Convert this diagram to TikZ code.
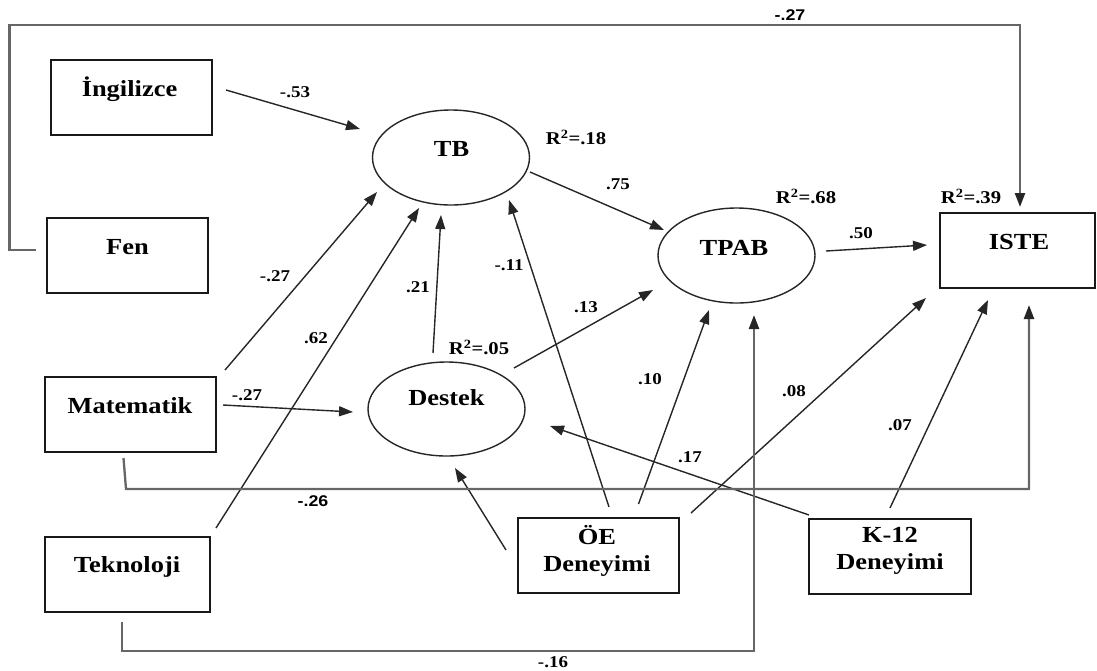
\documentclass[tikz,border=0pt]{standalone}
\usepackage{fontspec}
\newfontfamily\myserif{Liberation Serif}[FakeStretch=1.15]
\newfontfamily\mysans{Liberation Sans}[FakeStretch=1.15]
\usetikzlibrary{arrows.meta,calc,shapes.geometric}
\begin{document}
\begin{tikzpicture}[x=1pt,y=-1pt,
 box/.style={draw=black!90, line width=1.6pt, inner sep=0pt, minimum height=75pt},
 lat/.style={ellipse, draw=black!85, line width=1.4pt, inner sep=0pt, minimum width=157pt, minimum height=95pt},
 ttl/.style={font=\myserif\bfseries\fontsize{23}{27}\selectfont, inner sep=0pt, anchor=base, align=center},
 lbl/.style={font=\myserif\bfseries\fontsize{16.5}{19}\selectfont, inner sep=0pt, anchor=base},
 slbl/.style={font=\mysans\bfseries\fontsize{15.5}{18}\selectfont, inner sep=0pt, anchor=base},
 rsq/.style={font=\myserif\bfseries\fontsize{18}{21}\selectfont, inner sep=0pt, anchor=base},
 tip/.style={-{Triangle[length=14pt,width=10pt,color=black!85]}},
 arr/.style={draw=black!85, line width=1.4pt, tip},
 route/.style={draw=black!60, line width=2.3pt, line join=miter},
 routearr/.style={route, tip},
]
\useasboundingbox (0,0) rectangle (1097,670);

% observed variables
\node[box, minimum width=161pt] (ing) at (131.5,97.5) {};
\node[box, minimum width=161pt] (fen) at (127.5,255.5) {};
\node[box, minimum width=171pt] (mat) at (130.5,414.5) {};
\node[box, minimum width=165pt] (tek) at (127.5,574.5) {};
\node[box, minimum width=161pt] (oe) at (598.5,555.5) {};
\node[box, minimum width=162pt] (k12) at (890,556.5) {};
\node[box, minimum width=155pt] (iste) at (1017.5,250.5) {};

% latent variables
\node[lat] (tb) at (451,157.5) {};
\node[lat] (tpab) at (736.5,255.5) {};
\node[lat, minimum height=94pt] (destek) at (446.5,409) {};

% titles
\node[ttl] (ingt) at (129.5,96.5) {İngilizce};
\node[ttl] (fent) at (127.5,254.5) {Fen};
\node[ttl] (matt) at (130,413.5) {Matematik};
\node[ttl] (tekt) at (127,572.5) {Teknoloji};
\node[ttl, anchor=center] (oet) at (597,551) {ÖE\\Deneyimi};
\node[ttl, anchor=center] (k12t) at (890,551) {K-12\\Deneyimi};
\node[ttl] (istet) at (1019,249.5) {ISTE};
\node[ttl] (tbt) at (451.5,156.5) {TB};
\node[ttl] (tpabt) at (734,255.5) {TPAB};
\node[ttl] (destekt) at (446.5,405.5) {Destek};

% direct paths
\draw[arr] ($(ing)+(94.5,-7.5)$) -- ($(tb)+(-91,-28.5)$);
\draw[arr] ($(mat)+(94.5,-44.5)$) -- ($(tb)+(-74,34.5)$);
\draw[arr] ($(tek)+(88.5,-46.5)$) -- ($(tb)+(-32,50.5)$);
\draw[arr] ($(destek)+(-13.5,-56)$) -- ($(tb)+(-10,57.5)$);
\draw[arr] ($(oe)+(10.5,-48.5)$) -- ($(tb)+(58,42.5)$);
\draw[arr] ($(tb)+(79,14.5)$) -- ($(tpab)+(-72.5,-25.5)$);
\draw[arr] ($(destek)+(67.5,-41)$) -- ($(tpab)+(-83.5,34.5)$);
\draw[arr] ($(mat)+(92.5,-9.5)$) -- ($(destek)+(-93.5,3)$);
\draw[arr] ($(oe)+(-92.5,-5.5)$) -- ($(destek)+(8.5,59)$);
\draw[arr] ($(oe)+(40,-51.5)$) -- ($(tpab)+(-27.5,54.5)$);
\draw[arr] ($(oe)+(92.5,-42.5)$) -- ($(iste)+(-91.5,47.5)$);
\draw[arr] ($(k12)+(-81,-41.5)$) -- ($(destek)+(103.5,17)$);
\draw[arr] ($(k12)+(0,-48.5)$) -- ($(iste)+(-29.5,49.5)$);
\draw[arr] ($(tpab)+(89.5,-4.5)$) -- ($(iste)+(-90.5,-5.5)$);

% routed paths
\draw[routearr] ($(fen)+(-91.5,-5.5)$) -- ++(-26.5,0) |- ($(iste)+(2.5,-225.5)$) -- ($(iste)+(2.5,-43.5)$);
\draw[routearr] ($(mat)+(-7,43.5)$) -- ($(mat)+(-4.5,74.5)$) -- ($(iste)+(11.5,238.5)$) -- ($(iste)+(11.5,54.5)$);
\draw[routearr] ($(tek)+(-5.5,47.5)$) -- ++(0,29) -| ($(tpab)+(17.5,59.5)$);

% coefficients
\node[lbl] (c1) at (295,97.5) {-.53};
\node[lbl] (c2) at (275,281.5) {-.27};
\node[lbl] (c3) at (316,343.5) {.62};
\node[lbl] (c4) at (418,292.5) {.21};
\node[lbl] (c5) at (509,270.5) {-.11};
\node[lbl] (c6) at (618,189.5) {.75};
\node[lbl] (c7) at (586,312.5) {.13};
\node[lbl] (c8) at (247,400.5) {-.27};
\node[lbl] (c9) at (650,384.5) {.10};
\node[lbl] (c10) at (794,396.5) {.08};
\node[lbl] (c11) at (690,462.5) {.17};
\node[lbl] (c12) at (900,430.5) {.07};
\node[lbl] (c13) at (861,238.5) {.50};
\node[slbl] (c14) at (790,20.5) {-.27};
\node[slbl] (c15) at (313,506.5) {-.26};
\node[lbl] (c16) at (553,667) {-.16};

% explained variance
\node[rsq] (r1) at (576,144.5) {R\textsuperscript{2}=.18};
\node[rsq] (r2) at (806,203.5) {R\textsuperscript{2}=.68};
\node[rsq] (r3) at (971,203.5) {R\textsuperscript{2}=.39};
\node[rsq] (r4) at (479,354.5) {R\textsuperscript{2}=.05};
\end{tikzpicture}
\end{document}
